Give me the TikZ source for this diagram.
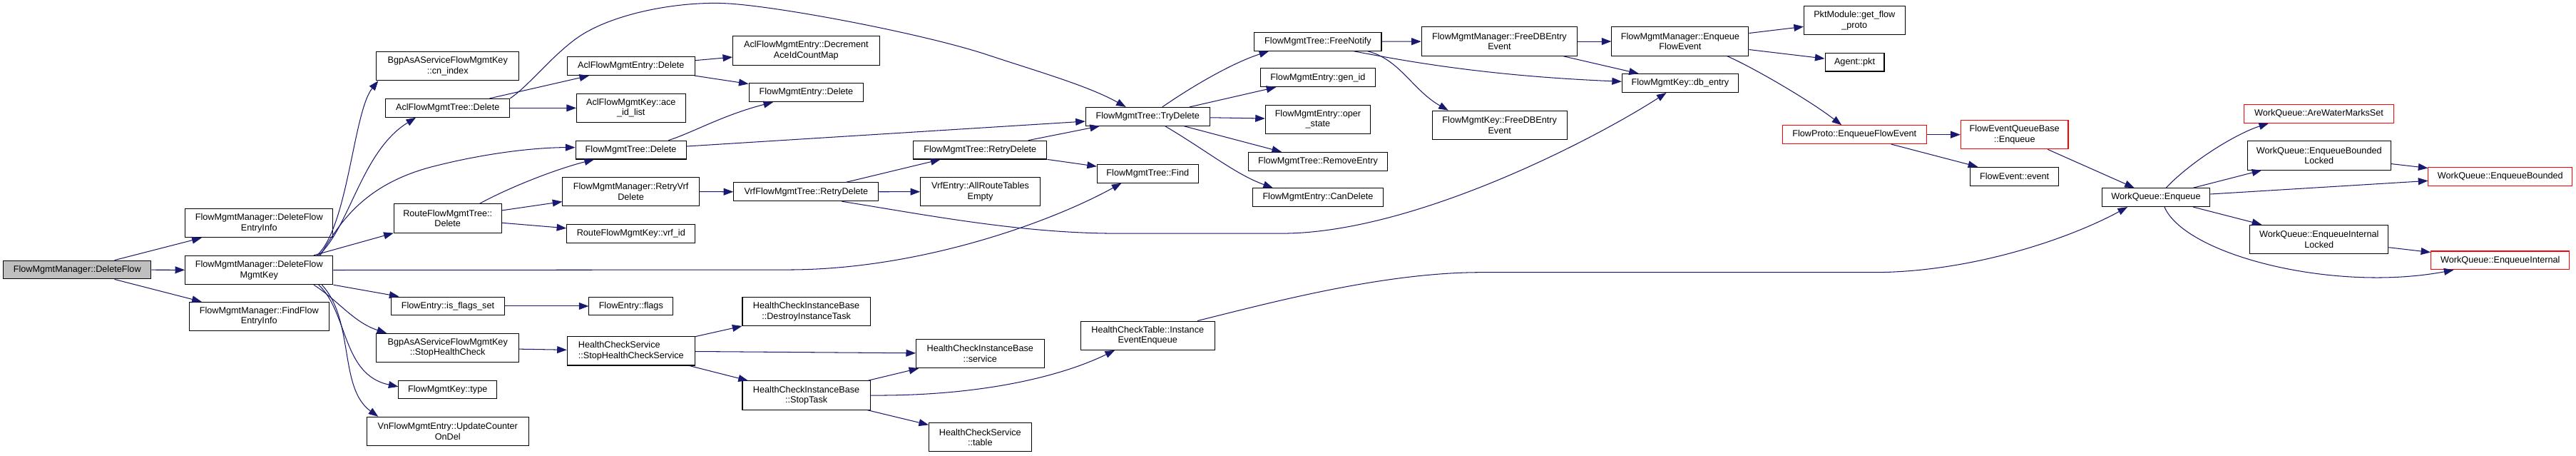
\documentclass[tikz,border=0pt]{standalone}
\usepackage{fontspec}
\setmainfont{Liberation Sans}
\usetikzlibrary{arrows.meta}
\definecolor{edgec}{HTML}{191970}
\definecolor{grayfill}{HTML}{BFBFBF}
\definecolor{redc}{HTML}{FF0000}
\begin{document}
\begin{tikzpicture}[x=1pt,y=-1pt,
 lbox/.style={draw=black, line width=0.45pt, inner xsep=1pt, inner ysep=0pt, font=\fontsize{5.5}{6.3}\selectfont, align=center, fill=white},
 lboxa/.style={lbox, minimum height=11.2pt},
 lboxb/.style={lbox, minimum height=17.5pt},
 redbox/.style={draw=redc},
 conn/.style={draw=edgec, line width=0.45pt, -{Triangle[length=5.9pt,width=4.3pt]}},
]
\fill[white] (0,0) rectangle (1568,277);
\useasboundingbox (0,0) rectangle (1568,277);

% nodes
\node[lboxa, minimum width=90pt, fill=grayfill] (n1) at (47,164.1) {FlowMgmtManager::DeleteFlow};
\node[lboxb, minimum width=90pt] (n2) at (157.7,135.7) {FlowMgmtManager::DeleteFlow\\EntryInfo};
\node[lboxb, minimum width=90pt] (n3) at (157.7,164.3) {FlowMgmtManager::DeleteFlow\\MgmtKey};
\node[lboxb, minimum width=85pt] (n4) at (157.7,192.5) {FlowMgmtManager::FindFlow\\EntryInfo};
\node[lboxb, minimum width=86.7pt] (n5) at (272.5,40.2) {BgpAsAServiceFlowMgmtKey\\::cn\_index};
\node[lboxa, minimum width=75.5pt] (n6) at (272.5,65.7) {AclFlowMgmtTree::Delete};
\node[lboxb, minimum width=65.5pt] (n7) at (272.5,132.8) {RouteFlowMgmtTree::\\Delete};
\node[lboxa, minimum width=69pt] (n8) at (272.6,186.2) {FlowEntry::is\_flags\_set};
\node[lboxb, minimum width=86.7pt] (n9) at (272.5,211.6) {BgpAsAServiceFlowMgmtKey\\::StopHealthCheck};
\node[lboxa, minimum width=59.7pt] (n10) at (272.5,237) {FlowMgmtKey::type};
\node[lboxb, minimum width=98.5pt] (n11) at (272.5,262.4) {VnFlowMgmtEntry::UpdateCounter\\OnDel};
\node[lboxa, minimum width=77.7pt] (n12) at (384.1,40.2) {AclFlowMgmtEntry::Delete};
\node[lboxb, minimum width=66.2pt] (n13) at (384.1,65.7) {AclFlowMgmtKey::ace\\\_id\_list};
\node[lboxa, minimum width=67.3pt] (n14) at (384,91.2) {FlowMgmtTree::Delete};
\node[lboxb, minimum width=83.1pt] (n15) at (384,116.6) {FlowMgmtManager::RetryVrf\\Delete};
\node[lboxa, minimum width=78.2pt] (n16) at (384.1,142.1) {RouteFlowMgmtKey::vrf\_id};
\node[lboxa, minimum width=51.1pt] (n17) at (384.1,186.2) {FlowEntry::flags};
\node[lboxb, minimum width=77.7pt, align=left] (n18) at (384.1,213.5) {HealthCheckService\\::StopHealthCheckService};
\node[lboxb, minimum width=89.2pt] (n19) at (490.7,30.8) {AclFlowMgmtEntry::Decrement\\AceIdCountMap};
\node[lboxa, minimum width=69.7pt] (n20) at (490.7,56.3) {FlowMgmtEntry::Delete};
\node[lboxa, minimum width=88.2pt] (n21) at (490.7,116.7) {VrfFlowMgmtTree::RetryDelete};
\node[lboxb, minimum width=77.8pt] (n22) at (490.8,189.6) {HealthCheckInstanceBase\\::DestroyInstanceTask};
\node[lboxb, minimum width=77.8pt] (n23) at (490.8,240.5) {HealthCheckInstanceBase\\::StopTask};
\node[lboxa, minimum width=81.3pt] (n24) at (596.6,91.2) {FlowMgmtTree::RetryDelete};
\node[lboxb, minimum width=72.8pt] (n25) at (596.7,116.6) {VrfEntry::AllRouteTables\\Empty};
\node[lboxb, minimum width=77.9pt] (n26) at (596.6,215.1) {HealthCheckInstanceBase\\::service};
\node[lboxb, minimum width=62.3pt] (n27) at (596.6,266) {HealthCheckService\\::table};
\node[lboxa, minimum width=75.5pt] (n28) at (698.6,70.9) {FlowMgmtTree::TryDelete};
\node[lboxa, minimum width=61.5pt] (n29) at (698.6,105.6) {FlowMgmtTree::Find};
\node[lboxb, minimum width=81.4pt] (n30) at (698.6,204.1) {HealthCheckTable::Instance\\EventEnqueue};
\node[lboxa, minimum width=77.3pt] (n31) at (802.2,25.3) {FlowMgmtTree::FreeNotify};
\node[lboxa, minimum width=69.8pt] (n32) at (802.2,47.2) {FlowMgmtEntry::gen\_id};
\node[lboxb, minimum width=63.9pt] (n33) at (802.2,72.6) {FlowMgmtEntry::oper\\\_state};
\node[lboxa, minimum width=84.5pt] (n34) at (802.2,98.2) {FlowMgmtTree::RemoveEntry};
\node[lboxa, minimum width=79.5pt] (n35) at (802.2,120.1) {FlowMgmtEntry::CanDelete};
\node[lboxb, minimum width=94.8pt] (n36) at (912.7,25.2) {FlowMgmtManager::FreeDBEntry\\Event};
\node[lboxb, minimum width=82pt] (n37) at (912.8,76.1) {FlowMgmtKey::FreeDBEntry\\Event};
\node[lboxb, minimum width=83.3pt] (n38) at (1022.7,25.2) {FlowMgmtManager::Enqueue\\FlowEvent};
\node[lboxa, minimum width=70.7pt] (n39) at (1022.7,50.6) {FlowMgmtKey::db\_entry};
\node[lboxa, minimum width=87.5pt, redbox] (n40) at (1128.8,81.9) {FlowProto::EnqueueFlowEvent};
\node[lboxb, minimum width=61.5pt] (n41) at (1128.8,12.5) {PktModule::get\_flow\\\_proto};
\node[lboxa, minimum width=36pt] (n42) at (1128.9,37.8) {Agent::pkt};
\node[lboxb, minimum width=65.4pt, redbox] (n43) at (1226.2,81.9) {FlowEventQueueBase\\::Enqueue};
\node[lboxa, minimum width=53.6pt] (n44) at (1226.2,107.3) {FlowEvent::event};
\node[lboxa, minimum width=65.8pt] (n45) at (1312.3,120.1) {WorkQueue::Enqueue};
\node[lboxa, minimum width=91.5pt, redbox] (n46) at (1411.5,69.2) {WorkQueue::AreWaterMarksSet};
\node[lboxb, minimum width=87.4pt] (n47) at (1411.6,94.6) {WorkQueue::EnqueueBounded\\Locked};
\node[lboxb, minimum width=84.2pt] (n48) at (1411.6,145.6) {WorkQueue::EnqueueInternal\\Locked};
\node[lboxa, minimum width=87.6pt, redbox] (n49) at (1521.9,107.3) {WorkQueue::EnqueueBounded};
\node[lboxa, minimum width=84.3pt, redbox] (n50) at (1521.9,158.4) {WorkQueue::EnqueueInternal};

% edges
\draw[conn] (n1) -- (n2);
\draw[conn] (n1) -- (n3);
\draw[conn] (n1) -- (n4);

\draw[conn] ([xshift=-10pt]n3.north east) .. controls (212,138) and (215,68) .. ([xshift=1.3pt]n5.south west);
\draw[conn] ([xshift=-9pt]n3.north east) .. controls (213,138) and (220,92) .. ([xshift=18.6pt]n6.south west);
\draw[conn] ([xshift=-8pt]n3.north east) .. controls (207,135) and (222,112) .. (263.5,101.3) .. controls (300,92) and (330,89.7) .. ([yshift=1.5pt]n14.west);
\draw[conn] ([xshift=-12pt]n3.north east) -- (n7.south west);
\draw[conn] (n3.east) -- (480,164.1) .. controls (560,164) and (640,135) .. ([xshift=15pt]n29.south west);
\draw[conn] (n3.south east) -- ([xshift=5pt]n8.north west);
\draw[conn] ([xshift=-12pt]n3.south east) .. controls (205,182) and (215,196) .. ([xshift=6.4pt]n9.north west);
\draw[conn] ([xshift=-9pt]n3.south east) .. controls (212,190) and (208,228) .. ([yshift=1.8pt]n10.west);
\draw[conn] ([xshift=-7pt]n3.south east) .. controls (216,195) and (206,236) .. ([xshift=7.2pt]n11.north west);

\draw[conn] (n6) -- (n12);
\draw[conn] (n6) -- (n13);
\draw[conn] (n6.north east) .. controls (322,52) and (334,36) .. (350,24) .. controls (370,9) and (410,1) .. (440,2) .. controls (470,3) and (560,20) .. (600,33) .. controls (630,43) and (662,52) .. ([xshift=24.7pt]n28.north west);
\draw[conn] (n12) -- (n19);
\draw[conn] (n12) -- (n20);
\draw[conn] ([xshift=-11pt]n14.north east) .. controls (422,80.5) and (440,70) .. ([xshift=15pt]n20.south west);
\draw[conn] ([yshift=2.2pt]n14.east) -- ([yshift=-2.9pt]n28.west);
\draw[conn] ([xshift=-13.5pt]n7.north east) .. controls (310,114) and (338,103) .. ([xshift=11.5pt]n14.south west);
\draw[conn] (n7) -- (n15);
\draw[conn] (n7) -- (n16);
\draw[conn] (n15) -- (n21);
\draw[conn] (n21) -- (n24);
\draw[conn] (n21) -- (n25);
\draw[conn] ([xshift=-22.6pt]n21.south east) .. controls (560,130) and (620,142) .. (680,142) -- (780,142) .. controls (860,142) and (970,85) .. ([xshift=27.2pt]n39.south west);
\draw[conn] (n24) -- (n28);
\draw[conn] (n24) -- (n29);

\draw[conn] ([xshift=8.9pt]n28.north) .. controls (722,55) and (748,39) .. ([xshift=9pt]n31.south west);
\draw[conn] (n28) -- (n32);
\draw[conn] (n28) -- (n33);
\draw[conn] (n28) -- (n34);
\draw[conn] ([xshift=10.6pt]n28.south) .. controls (735,92) and (752,106) .. ([xshift=12.6pt]n35.north west);

\draw[conn] (n31) -- (n36);
\draw[conn] ([xshift=-8.7pt]n31.south east) .. controls (852,36) and (860,55) .. ([xshift=10pt]n37.north west);
\draw[conn] ([xshift=-17.2pt]n31.south east) .. controls (850,36) and (900,46) .. ([yshift=1pt]n39.west);
\draw[conn] (n36) -- (n38);
\draw[conn] (n36) -- (n39);
\draw[conn] (n38) -- (n41);
\draw[conn] (n38) -- (n42);
\draw[conn] ([xshift=-13.25pt]n38.south east) .. controls (1065,40) and (1100,60) .. ([xshift=36.15pt]n40.north west);
\draw[conn] (n40) -- (n43);
\draw[conn] (n40) -- (n44);
\draw[conn] (n43) -- (n45);

\draw[conn] (n8) -- (n17);
\draw[conn] (n9) -- (n18);
\draw[conn] (n18) -- (n22);
\draw[conn] (n18) -- (n23);
\draw[conn] (n18) -- (n26);
\draw[conn] (n23) -- (n26);
\draw[conn] (n23.east) .. controls (600,241) and (648,228) .. ([xshift=20.9pt]n30.south west);
\draw[conn] (n23) -- (n27);
\draw[conn] ([xshift=-10.6pt]n30.north east) .. controls (770,185) and (840,166) .. (900,165.7) -- (1140,165.7) .. controls (1200,165.7) and (1260,145) .. ([xshift=15.8pt]n45.south west);

\draw[conn] ([xshift=6.1pt]n45.north) .. controls (1335,97) and (1362,81) .. ([xshift=15.4pt]n46.south west);
\draw[conn] (n45) -- (n47);
\draw[conn] (n45) -- (n49);
\draw[conn] (n45) -- (n48);
\draw[conn] ([xshift=5.2pt]n45.south) .. controls (1330,155) and (1420,178) .. ([xshift=14pt]n50.south west);
\draw[conn] (n47) -- (n49);
\draw[conn] (n48) -- (n50);
\end{tikzpicture}
\end{document}
